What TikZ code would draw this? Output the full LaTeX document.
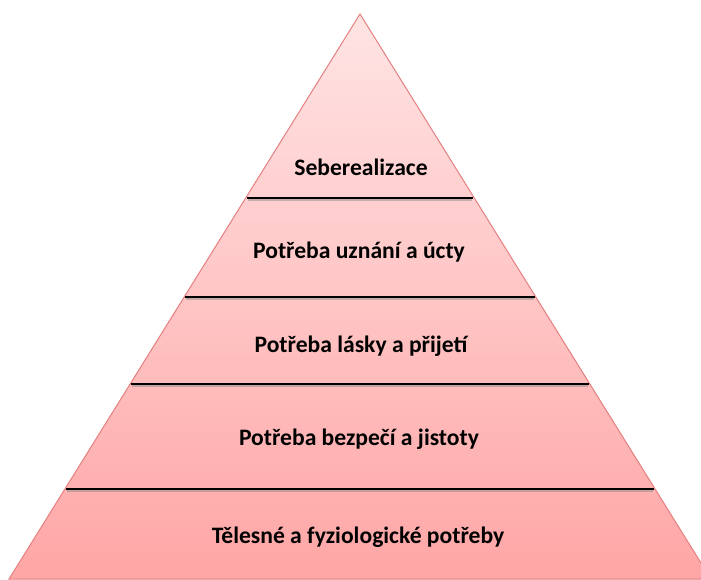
\documentclass[tikz,border=0pt]{standalone}
\usepackage{fontspec}
\setmainfont{Carlito}
\usetikzlibrary{calc}
\definecolor{pinkTop}{RGB}{255,228,228}
\definecolor{pinkBot}{RGB}{255,166,166}
\definecolor{edgeRed}{RGB}{228,128,128}
\tikzset{
  level/.style={font=\bfseries\fontsize{23.6}{28}\selectfont, anchor=base, inner sep=0pt},
  divider/.style={black, line width=2.4pt},
  dividershadow/.style={black!45, opacity=0.5, line width=1.5pt}
}
\begin{document}
\begin{tikzpicture}[x=1pt,y=-1pt]
\useasboundingbox (0,0) rectangle (701,579);
\coordinate (apex) at (360,14);
\coordinate (bl) at (9,579);
\coordinate (br) at (711,579);
\begin{scope}
\clip (0,0) rectangle (701,579);
\shadedraw[top color=pinkTop, bottom color=pinkBot, draw=edgeRed, line width=1pt] (apex) -- (br) -- (bl) -- cycle;
\end{scope}
\foreach \f [count=\i] in {0.3257,0.5009,0.6549,0.8407} {
  \coordinate (L\i) at ($(apex)!\f!(bl)$);
  \coordinate (R\i) at ($(apex)!\f!(br)$);
  \draw[dividershadow] ($(L\i)+(2,2)$) -- ($(R\i)+(-2,2)$);
  \draw[divider] ($(L\i)+(1,0)$) -- ($(R\i)+(-1,0)$);
}
\node[level] (t1) at (361,175) {Seberealizace};
\node[level] (t2) at (359,258) {Potřeba uznání a úcty};
\node[level] (t3) at (361,352) {Potřeba lásky a přijetí};
\node[level] (t4) at (359,445) {Potřeba bezpečí a jistoty};
\node[level] (t5) at (358,543) {Tělesné a fyziologické potřeby};
\end{tikzpicture}
\end{document}
